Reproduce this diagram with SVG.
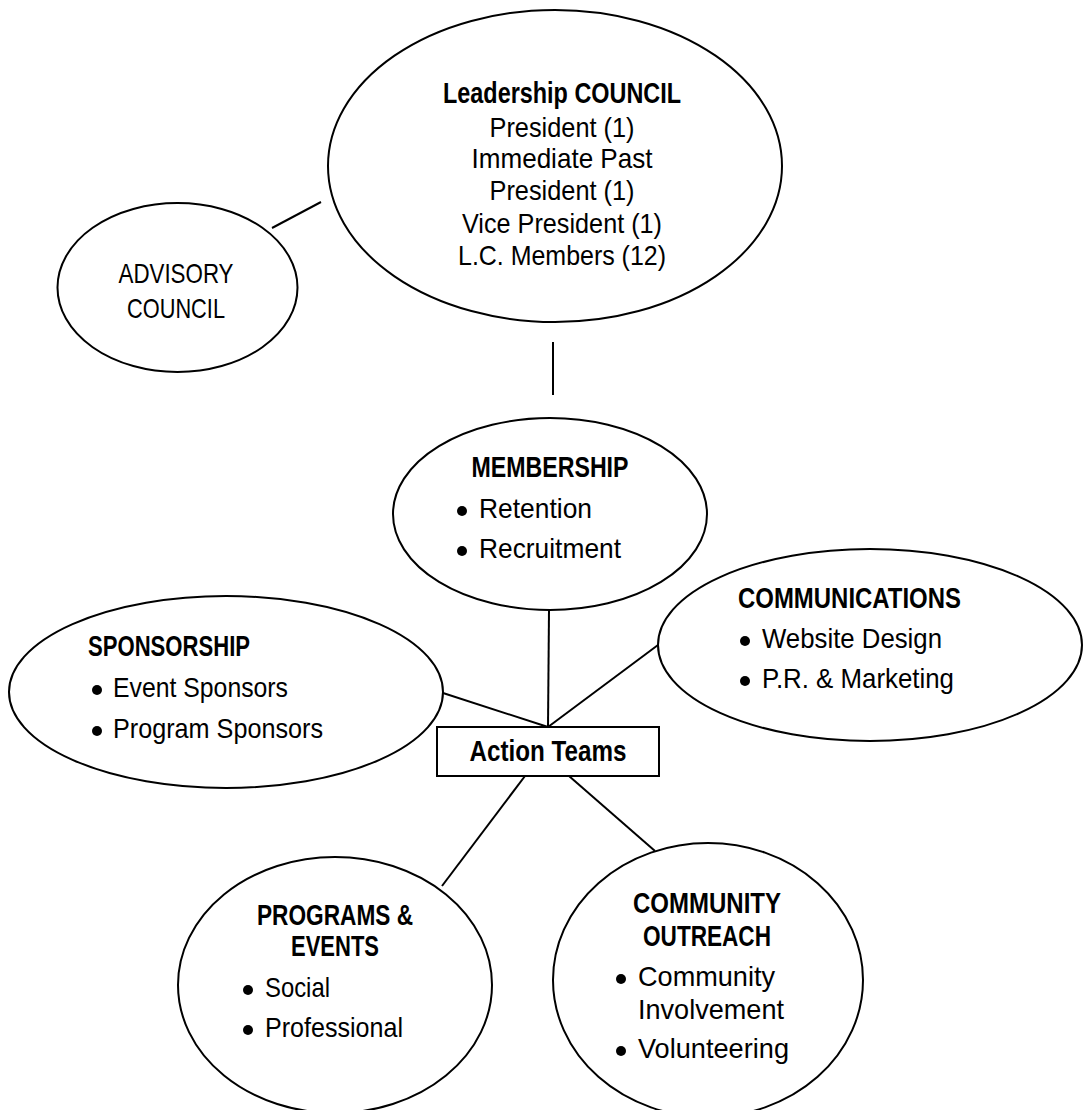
<svg xmlns="http://www.w3.org/2000/svg" width="1083" height="1110" viewBox="0 0 1083 1110">
<style>
.n{fill:#fff;stroke:#000;stroke-width:2}
.c line{stroke:#000;stroke-width:2}
text{font-family:"Liberation Sans",Arial,sans-serif;font-size:28px;fill:#000}
.b{font-weight:bold;font-size:29px}
.m{text-anchor:middle}
</style>
<rect width="1083" height="1110" fill="#fff"/>
<g class="c" id="connectors">
<line x1="272" y1="228" x2="321" y2="202"/>
<line x1="553" y1="342" x2="553" y2="395"/>
<line x1="549" y1="610" x2="548" y2="727"/>
<line x1="443" y1="693" x2="548" y2="727"/>
<line x1="658" y1="645" x2="548" y2="727"/>
<line x1="525" y1="776" x2="442" y2="886"/>
<line x1="569" y1="776" x2="655" y2="851"/>
</g>
<g id="leadership">
<ellipse class="n" cx="555" cy="166" rx="227" ry="156"/>
<text class="b m" x="562" y="103" textLength="238" lengthAdjust="spacingAndGlyphs">Leadership COUNCIL</text>
<text class="m" x="562" y="137" textLength="145" lengthAdjust="spacingAndGlyphs">President (1)</text>
<text class="m" x="562" y="168" textLength="181" lengthAdjust="spacingAndGlyphs">Immediate Past</text>
<text class="m" x="562" y="200" textLength="145" lengthAdjust="spacingAndGlyphs">President (1)</text>
<text class="m" x="562" y="233" textLength="200" lengthAdjust="spacingAndGlyphs">Vice President (1)</text>
<text class="m" x="562" y="265" textLength="208" lengthAdjust="spacingAndGlyphs">L.C. Members (12)</text>
</g>
<g id="advisory">
<ellipse class="n" cx="177.5" cy="287.5" rx="120" ry="84.5"/>
<text class="m" x="176" y="283" textLength="115" lengthAdjust="spacingAndGlyphs">ADVISORY</text>
<text class="m" x="176" y="318" textLength="98" lengthAdjust="spacingAndGlyphs">COUNCIL</text>
</g>
<g id="membership">
<ellipse class="n" cx="550" cy="514" rx="157" ry="96"/>
<text class="b m" x="550" y="477" textLength="157" lengthAdjust="spacingAndGlyphs">MEMBERSHIP</text>
<circle cx="462" cy="511" r="5"/>
<text x="479" y="518" textLength="113" lengthAdjust="spacingAndGlyphs">Retention</text>
<circle cx="462" cy="551" r="5"/>
<text x="479" y="558" textLength="142" lengthAdjust="spacingAndGlyphs">Recruitment</text>
</g>
<g id="sponsorship">
<ellipse class="n" cx="226" cy="692" rx="217" ry="96"/>
<text class="b" x="88" y="656" textLength="162" lengthAdjust="spacingAndGlyphs">SPONSORSHIP</text>
<circle cx="97" cy="690" r="5"/>
<text x="113" y="697" textLength="175" lengthAdjust="spacingAndGlyphs">Event Sponsors</text>
<circle cx="97" cy="731" r="5"/>
<text x="113" y="738" textLength="210" lengthAdjust="spacingAndGlyphs">Program Sponsors</text>
</g>
<g id="communications">
<ellipse class="n" cx="870" cy="645" rx="212" ry="96"/>
<text class="b" x="738" y="608" textLength="223" lengthAdjust="spacingAndGlyphs">COMMUNICATIONS</text>
<circle cx="745" cy="641" r="5"/>
<text x="762" y="648" textLength="180" lengthAdjust="spacingAndGlyphs">Website Design</text>
<circle cx="745" cy="681" r="5"/>
<text x="762" y="688" textLength="192" lengthAdjust="spacingAndGlyphs">P.R. &amp; Marketing</text>
</g>
<g id="action-teams">
<rect class="n" x="437" y="727" width="222" height="49"/>
<text class="b m" x="548" y="761" textLength="157" lengthAdjust="spacingAndGlyphs">Action Teams</text>
</g>
<g id="programs">
<ellipse class="n" cx="335" cy="985" rx="157" ry="128"/>
<text class="b m" x="335" y="925" textLength="156" lengthAdjust="spacingAndGlyphs">PROGRAMS &amp;</text>
<text class="b m" x="335" y="956" textLength="88" lengthAdjust="spacingAndGlyphs">EVENTS</text>
<circle cx="248" cy="990" r="5"/>
<text x="265" y="997" textLength="65" lengthAdjust="spacingAndGlyphs">Social</text>
<circle cx="248" cy="1030" r="5"/>
<text x="265" y="1037" textLength="138" lengthAdjust="spacingAndGlyphs">Professional</text>
</g>
<g id="community">
<ellipse class="n" cx="708" cy="980" rx="155" ry="137"/>
<text class="b m" x="707" y="913" textLength="148" lengthAdjust="spacingAndGlyphs">COMMUNITY</text>
<text class="b m" x="707" y="946" textLength="128" lengthAdjust="spacingAndGlyphs">OUTREACH</text>
<circle cx="621" cy="979" r="5"/>
<text x="638" y="986" textLength="137" lengthAdjust="spacingAndGlyphs">Community</text>
<text x="638" y="1019" textLength="146" lengthAdjust="spacingAndGlyphs">Involvement</text>
<circle cx="621" cy="1051" r="5"/>
<text x="638" y="1058" textLength="151" lengthAdjust="spacingAndGlyphs">Volunteering</text>
</g>
</svg>
